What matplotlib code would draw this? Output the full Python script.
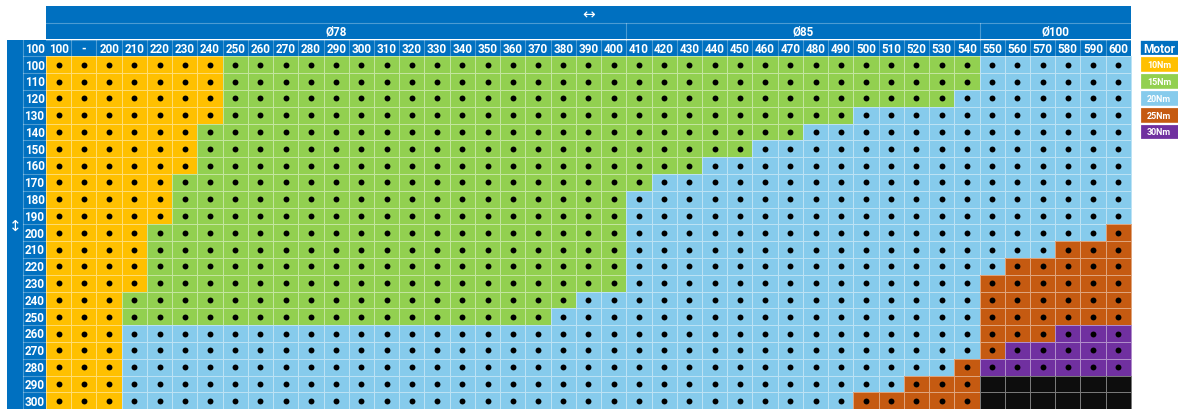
import numpy as np
import matplotlib
matplotlib.use('Agg')
import matplotlib.pyplot as plt
from matplotlib.colors import ListedColormap
from matplotlib.patches import Rectangle

plt.rcParams['font.family'] = ['Roboto', 'DejaVu Sans']

# Column and row labels
col_labels = ['100', '-'] + [str(v) for v in range(200, 610, 10)]
row_labels = [str(v) for v in range(100, 310, 10)]

# Diameter groups over the columns (first label, last label)
groups = [('Ø78', '100', '400'), ('Ø85', '410', '540'), ('Ø100', '550', '600')]

# Motor legend
motor_names = ['10Nm', '15Nm', '20Nm', '25Nm', '30Nm']
motor_colors = ['#FFC000', '#92D050', '#86CBEC', '#C55A11', '#7030A0']
na_color = '#0D0D0D'

# Last column of each motor band, per row (100 ... 300)
orange_last = [240, 240, 240, 240, 230, 230, 230, 220, 220, 220, 210,
               210, 210, 210, 200, 200, 200, 200, 200, 200, 200]
green_last = [540, 540, 530, 490, 470, 450, 430, 410, 400, 400, 400,
              400, 400, 400, 380, 370, 200, 200, 200, 200, 200]
blue_last = [600, 600, 600, 600, 600, 600, 600, 600, 600, 600, 590,
             570, 550, 540, 540, 540, 540, 540, 530, 510, 490]
brown_last = [600, 600, 600, 600, 600, 600, 600, 600, 600, 600, 600,
              600, 600, 600, 600, 600, 570, 550, 540, 540, 540]
purple_last = [600, 600, 600, 600, 600, 600, 600, 600, 600, 600, 600,
               600, 600, 600, 600, 600, 600, 600, 600, 540, 540]

ncol = len(col_labels)
nrow = len(row_labels)


def col_idx(v):
    return col_labels.index(str(v))


# motor code per cell: 0..4 motors, 5 = not available
codes = np.full((nrow, ncol), 5)
for r in range(nrow):
    ends = [orange_last[r], green_last[r], blue_last[r], brown_last[r], purple_last[r]]
    start = 0
    for m, e in enumerate(ends):
        stop = col_idx(e) + 1
        if stop > start:
            codes[r, start:stop] = m
            start = stop

# pixel geometry
CW, RH = 25.23, 16.8
X0, Y0 = 46, 57.3
W, H = 1178, 410

fig = plt.figure(figsize=(W / 100, H / 100), dpi=100)
ax = fig.add_axes([0, 0, 1, 1])
ax.set_xlim(-X0 / CW, (W - X0) / CW)
ax.set_ylim((H - Y0) / RH, -Y0 / RH)
ax.axis('off')

blue_hdr = '#0070C0'
sep = (1, 1, 1, 0.3)
hdr_font = dict(color='white', fontsize=8.4, fontweight='bold', ha='center', va='center')
arrow_font = dict(hdr_font, fontsize=11, fontweight='normal')

# cells
cmap = ListedColormap(motor_colors + [na_color])
ax.pcolormesh(np.arange(ncol + 1), np.arange(nrow + 1), codes, cmap=cmap,
              vmin=-0.5, vmax=5.5, edgecolors=(1, 1, 1, 0.45), linewidth=0.6)

# dots
rr, cc = np.nonzero(codes != 5)
ax.scatter(cc + 0.5, rr + 0.5, s=18, color='black', zorder=3, linewidths=0)

# top bar
ax.add_patch(Rectangle((0, -3), ncol, 1, color=blue_hdr, lw=0))
ax.text(ncol / 2, -2.52, '↔', **arrow_font)

# group row
ax.add_patch(Rectangle((0, -2), ncol, 1, color=blue_hdr, lw=0))
ax.plot([0, ncol], [-2, -2], color=sep, lw=0.8)
for name, a, b in groups:
    i0, i1 = col_idx(a), col_idx(b) + 1
    ax.text((i0 + i1) / 2, -1.48, name, **hdr_font)
    if i1 < ncol:
        ax.plot([i1, i1], [-2, -1], color=sep, lw=0.8)

# column header row
ax.add_patch(Rectangle((0, -1), ncol, 1, color=blue_hdr, lw=0))
ax.plot([0, ncol], [-1, -1], color=sep, lw=0.8)
for i, lab in enumerate(col_labels):
    ax.text(i + 0.5, -0.48, lab, **hdr_font)
    if i > 0:
        ax.plot([i, i], [-1, 0], color=sep, lw=0.8)

# row header column + left strip
rh_x0 = (23 - X0) / CW
strip_x0 = (7 - X0) / CW
ax.add_patch(Rectangle((rh_x0, -1), -rh_x0, nrow + 2, color=blue_hdr, lw=0))
ax.add_patch(Rectangle((strip_x0, -1), rh_x0 - strip_x0, nrow + 2, color=blue_hdr, lw=0))
ax.plot([rh_x0, rh_x0], [-1, nrow + 1], color=sep, lw=0.8)
ax.text(rh_x0 / 2, -0.48, '100', **hdr_font)
for r, lab in enumerate(row_labels):
    ax.text(rh_x0 / 2, r + 0.52, lab, **hdr_font)
    ax.plot([rh_x0, 0], [r, r], color=sep, lw=0.8)
ax.text((strip_x0 + rh_x0) / 2, 10.1, '↕', **arrow_font)

# legend
lx0 = (1140 - X0) / CW
lw_ = 2.0
ax.add_patch(Rectangle((lx0, -1), lw_, 1, facecolor=blue_hdr, edgecolor='white', lw=1.2))
ax.text(lx0 + 0.75, -0.48, 'Motor', color='white', fontsize=8.6, fontweight='bold',
        ha='center', va='center')
for i, (name, c) in enumerate(zip(motor_names, motor_colors)):
    ax.add_patch(Rectangle((lx0, i), lw_, 1, facecolor=c, edgecolor='white', lw=1.6))
    ax.text(lx0 + 0.75, i + 0.5, name, color='white', fontsize=6.4, fontweight='bold',
            ha='center', va='center')

fig.savefig('out.png', dpi=100)
